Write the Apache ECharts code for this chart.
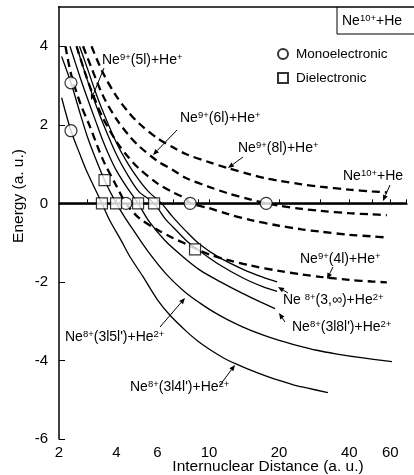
<!DOCTYPE html>
<html><head><meta charset="utf-8">
<script src="https://cdn.jsdelivr.net/npm/echarts@6/dist/echarts.min.js"></script>
<style>html,body{margin:0;padding:0;background:#fff}#c{width:414px;height:475px}</style>
</head><body><div id="c"></div>
<script>
// ---- tick labels ----
const xTickValues = [2.27, 4, 6, 10, 20, 40, 60];
const xTickLabels = ['2', '4', '6', '10', '20', '40', '60'];
const xMinorTicks = [3, 4, 5, 6, 7, 8, 9, 10, 20, 30, 40, 50, 60, 70];
const yTickValues = [-6, -4, -2, 0, 2, 4];

// ---- curves (R in a.u., E in a.u.) ----
const R_ne10 = [2.27, 70.8];
const E_ne10 = [0, 0];

const R_4l = [2.42, 2.555, 2.8, 3.08, 3.5, 4.0, 4.4, 5, 6, 7, 8, 9.15, 10, 12, 15, 20, 25, 30, 40, 50, 58];
const E_4l = [4.0, 3.3, 2.55, 1.96, 1.12, 0.45, 0.0, -0.37, -0.67, -0.88, -1.04, -1.2, -1.3, -1.44, -1.58, -1.72, -1.81, -1.87, -1.95, -1.99, -2.01];

const R_5l = [2.7, 3.0, 3.17, 3.5, 4, 4.5, 5, 6, 7, 8, 8.3, 10, 12, 15, 20, 25, 30, 40, 50, 58];
const E_5l = [4.0, 3.16, 2.78, 2.18, 1.58, 1.18, 0.89, 0.51, 0.28, 0.11, 0.0, -0.12, -0.27, -0.42, -0.57, -0.66, -0.72, -0.80, -0.84, -0.87];

const R_6l = [2.88, 3.0, 3.5, 4, 4.5, 5, 6, 7, 8, 10, 12, 15, 17.6, 20, 25, 30, 40, 50, 58];
const E_6l = [4.0, 3.73, 2.75, 2.15, 1.75, 1.46, 1.08, 0.85, 0.64, 0.42, 0.26, 0.1, 0.0, -0.06, -0.14, -0.19, -0.25, -0.28, -0.30];

const R_8l = [3.13, 3.5, 4, 4.5, 5, 6, 7, 8, 10, 12, 15, 17.7, 20, 25, 30, 40, 50, 58];
const E_8l = [4.0, 3.33, 2.73, 2.33, 2.04, 1.66, 1.43, 1.25, 1.05, 0.9, 0.74, 0.63, 0.575, 0.485, 0.425, 0.35, 0.305, 0.28];

const R_3l4l = [2.33, 2.555, 2.8, 3.0, 3.47, 3.76, 4.2, 4.58, 5.2, 6, 6.8, 8, 9, 10, 11.5, 13.2, 15, 17.5, 20, 23, 26.3, 32.4];
const E_3l4l = [2.69, 1.85, 1.23, 0.79, 0.0, -0.45, -0.95, -1.36, -1.86, -2.45, -2.85, -3.26, -3.52, -3.71, -3.93, -4.10, -4.24, -4.39, -4.51, -4.62, -4.70, -4.82];

const R_3l5l = [2.33, 2.555, 2.8, 3.0, 3.25, 3.56, 4.0, 4.4, 4.72, 5.5, 6.6, 8, 9.15, 10.5, 12, 14, 17, 20, 24, 29, 35, 45, 61];
const E_3l5l = [3.74, 3.07, 2.28, 1.71, 1.16, 0.59, 0.0, -0.40, -0.67, -1.24, -1.82, -2.29, -2.54, -2.77, -2.96, -3.15, -3.35, -3.49, -3.62, -3.74, -3.83, -3.93, -4.03];

const R_3l8l = [2.53, 2.8, 3.0, 3.25, 3.5, 3.75, 4.0, 4.45, 4.96, 5.5, 6.5, 7.7, 9.15, 11.2, 14, 16.5, 19.2];
const E_3l8l = [4.0, 3.2, 2.69, 2.12, 1.6, 1.18, 0.84, 0.4, 0.0, -0.44, -0.96, -1.35, -1.7, -2.0, -2.3, -2.5, -2.68];

const R_3inf = [2.78, 3.0, 3.25, 3.5, 4.0, 4.5, 5, 5.5, 6.25, 7, 8, 9.15, 11, 14, 17, 19.6];
const E_3inf = [4.0, 3.45, 2.85, 2.35, 1.55, 1.0, 0.6, 0.3, 0.0, -0.35, -0.72, -1.05, -1.37, -1.68, -1.88, -2.0];

const R_3inf2 = [2.7, 3.0, 3.25, 3.5, 4.0, 4.5, 5, 5.81, 6.5, 7, 8, 9.15, 11, 14, 17, 19.6];
const E_3inf2 = [4.0, 3.15, 2.55, 2.05, 1.25, 0.7, 0.3, 0.0, -0.4, -0.6, -0.95, -1.22, -1.55, -1.9, -2.12, -2.24];

// ---- crossings ----
const R_mono = [2.555, 2.555, 4.4, 8.3, 17.6];
const E_mono = [3.07, 1.85, 0, 0, 0];
const R_di = [3.47, 3.99, 4.96, 5.81, 3.56, 8.71];
const E_di = [0, 0, 0, 0, 0.59, -1.17];

const zip = (R, E) => R.map((r, i) => [r, E[i]]);
const FONT = '"Liberation Sans", Arial, sans-serif';

const chart = echarts.init(document.getElementById('c'), null, {renderer: 'canvas'});

function lineSeries(R, E, dashed, width) {
  return {
    type: 'line', data: zip(R, E), showSymbol: false, smooth: 0.3, silent: true,
    lineStyle: {color: '#000', width: width, type: dashed ? [8, 5] : 'solid'},
    z: 2
  };
}

const rich = {
  n: {fontSize: 14, fontFamily: FONT, color: '#000'},
  s: {fontSize: 9.5, fontFamily: FONT, color: '#000', verticalAlign: 'top', padding: [0, 0, 6, 0]}
};
function label(x, y, txt) {
  return {type: 'text', x: x, y: y, z: 10, style: {text: txt, rich: rich, textVerticalAlign: 'middle', fill: '#000'}};
}
function arrow(x1, y1, x2, y2) {
  const a = Math.atan2(y2 - y1, x2 - x1), L = 6, W = 2.5;
  const bx = x2 - L * Math.cos(a), by = y2 - L * Math.sin(a);
  return [
    {type: 'line', z: 10, shape: {x1: x1, y1: y1, x2: bx, y2: by}, style: {stroke: '#000', lineWidth: 1}},
    {type: 'polygon', z: 10, shape: {points: [[x2, y2], [bx - W * Math.sin(a), by + W * Math.cos(a)], [bx + W * Math.sin(a), by - W * Math.cos(a)]]}, style: {fill: '#000'}}
  ];
}

const option = {
  animation: false,
  backgroundColor: '#fff',
  grid: {left: 59, right: 7, top: 7, bottom: 36},
  legend: {
    orient: 'vertical', left: 277, top: 47, padding: 0, itemWidth: 10, itemHeight: 10, itemGap: 10,
    textStyle: {fontSize: 13.5, fontFamily: FONT, color: '#000', padding: [0, 0, 0, 3]},
    data: [{name: 'Monoelectronic', icon: 'circle'}, {name: 'Dielectronic', icon: 'rect'}]
  },
  xAxis: {
    type: 'log', logBase: 10, min: 2.27, max: 70.8,
    axisLine: {lineStyle: {color: '#000', width: 1.5}},
    axisTick: {inside: true, length: 4, customValues: xMinorTicks, lineStyle: {color: '#000', width: 1}},
    axisLabel: {
      customValues: xTickValues, fontSize: 15, fontFamily: FONT, color: '#000', margin: 6,
      formatter: v => {
        let best = 0;
        xTickValues.forEach((t, i) => { if (Math.abs(Math.log(t) - Math.log(v)) < Math.abs(Math.log(xTickValues[best]) - Math.log(v))) best = i; });
        return xTickLabels[best];
      }
    },
    splitLine: {show: false}, minorTick: {show: false}
  },
  yAxis: {
    type: 'value', min: -6, max: 5, interval: 2,
    axisLine: {show: true, lineStyle: {color: '#000', width: 1.5}},
    axisTick: {inside: true, length: 6, customValues: yTickValues, lineStyle: {color: '#000'}},
    axisLabel: {customValues: yTickValues, fontSize: 15, fontFamily: FONT, color: '#000', margin: 11},
    splitLine: {show: false}
  },
  series: [
    lineSeries(R_ne10, E_ne10, false, 2),
    lineSeries(R_4l, E_4l, true, 2.3),
    lineSeries(R_5l, E_5l, true, 2.3),
    lineSeries(R_6l, E_6l, true, 2.3),
    lineSeries(R_8l, E_8l, true, 2.3),
    lineSeries(R_3l4l, E_3l4l, false, 1.3),
    lineSeries(R_3l5l, E_3l5l, false, 1.3),
    lineSeries(R_3l8l, E_3l8l, false, 1.3),
    lineSeries(R_3inf, E_3inf, false, 1.3),
    lineSeries(R_3inf2, E_3inf2, false, 1.3),
    {name: 'Monoelectronic', type: 'scatter', data: zip(R_mono, E_mono), symbol: 'circle', symbolSize: 12, z: 5,
     itemStyle: {color: '#fff', borderColor: '#000', borderWidth: 1.2}},
    {name: 'Dielectronic', type: 'scatter', data: zip(R_di, E_di), symbol: 'rect', symbolSize: 11, z: 5,
     itemStyle: {color: '#fff', borderColor: '#000', borderWidth: 1.2}}
  ],
  graphic: [
    {type: 'line', shape: {x1: 58, y1: 7, x2: 414, y2: 7}, style: {stroke: '#000', lineWidth: 1.5}},
    {type: 'polyline', shape: {points: [[337, 7], [337, 34], [414, 34]]}, style: {stroke: '#000', lineWidth: 1, fill: null}},
    {type: 'text', x: 268, y: 467, style: {text: 'Internuclear Distance (a. u.)', font: '15.5px ' + FONT, fill: '#000', textAlign: 'center', textVerticalAlign: 'middle'}},
    {type: 'text', x: 19, y: 196, rotation: Math.PI / 2, style: {text: 'Energy (a. u.)', font: '15.5px ' + FONT, fill: '#000', textAlign: 'center', textVerticalAlign: 'middle'}},
    label(342, 21, '{n|Ne}{s|10+}{n|+He}'),
    label(102, 60, '{n|Ne}{s|9+}{n|(5l)+He}{s|+}'),
    label(180, 118, '{n|Ne}{s|9+}{n|(6l)+He}{s|+}'),
    label(238, 148, '{n|Ne}{s|9+}{n|(8l)+He}{s|+}'),
    label(343, 176, '{n|Ne}{s|10+}{n|+He}'),
    label(300, 259, '{n|Ne}{s|9+}{n|(4l)+He}{s|+}'),
    label(283, 300, '{n|Ne }{s|8+}{n|(3,∞)+He}{s|2+}'),
    label(292, 327, "{n|Ne}{s|8+}{n|(3l8l')+He}{s|2+}"),
    label(65, 337, "{n|Ne}{s|8+}{n|(3l5l')+He}{s|2+}"),
    label(130, 387, "{n|Ne}{s|8+}{n|(3l4l')+He}{s|2+}"),
    ...arrow(104, 68, 91, 100),
    ...arrow(177, 130, 153, 155),
    ...arrow(243, 157, 228, 168),
    ...arrow(390, 185, 383, 201),
    ...arrow(333, 267, 327, 279),
    ...arrow(288, 293, 278, 287),
    ...arrow(285, 322, 279, 313),
    ...arrow(160, 327, 185, 298),
    ...arrow(220, 385, 235, 365)
  ]
};
chart.setOption(option);
</script></body></html>
